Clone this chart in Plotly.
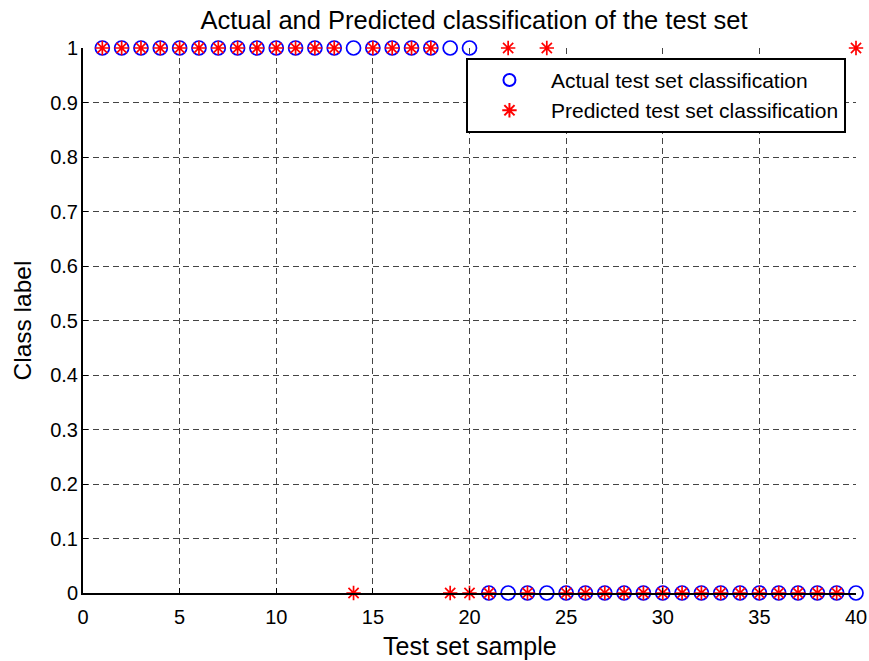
import plotly.graph_objects as go

samples = list(range(1, 41))
actual = [1]*20 + [0]*20
predicted = [1]*13 + [0] + [1]*4 + [0, 0, 0, 1, 0, 1] + [0]*15 + [1]
x_ticks = [0, 5, 10, 15, 20, 25, 30, 35, 40]
y_ticks = [0, 0.1, 0.2, 0.3, 0.4, 0.5, 0.6, 0.7, 0.8, 0.9, 1]
y_tick_labels = ["0", "0.1", "0.2", "0.3", "0.4", "0.5", "0.6", "0.7", "0.8", "0.9", "1"]

fig = go.Figure()
fig.add_trace(go.Scatter(
    x=samples, y=actual, mode="markers", name="Actual test set classification",
    marker=dict(symbol="circle-open", size=14, color="blue", line=dict(width=1.7, color="blue")),
    cliponaxis=False))
fig.add_trace(go.Scatter(
    x=samples, y=predicted, mode="markers", name="Predicted test set classification",
    marker=dict(symbol="asterisk-open", size=12, color="red", line=dict(width=1.7, color="red")),
    cliponaxis=False))

font = "Liberation Sans, Arial, sans-serif"
W, H = 869, 661
fig.update_layout(
    width=W, height=H,
    margin=dict(l=83, r=13, t=47.5, b=68),
    paper_bgcolor="white", plot_bgcolor="white",
    font=dict(family=font, size=20, color="black"),
    title=dict(text="Actual and Predicted classification of the test set",
               x=474 / W, xanchor="center", y=1 - 20 / H, yanchor="middle",
               font=dict(size=25.5, color="black", family=font)),
    showlegend=True,
    legend=dict(x=0.987, xanchor="right", y=0.982, yanchor="top",
                bgcolor="white", bordercolor="black", borderwidth=2,
                font=dict(size=21, family=font), itemsizing="constant",
                itemwidth=73, tracegroupgap=2),
    xaxis=dict(range=[0, 40], tickvals=x_ticks, ticks="inside", ticklen=5,
               tickcolor="black", showline=True, linecolor="black", linewidth=2,
               mirror=False, showgrid=True, gridcolor="#444", griddash="6px,4px",
               gridwidth=1, zeroline=False, automargin=False,
               ticklabelstandoff=5, tickfont=dict(size=20)),
    yaxis=dict(range=[0, 1], tickvals=y_ticks, ticktext=y_tick_labels, ticks="inside",
               ticklen=5, tickcolor="black", showline=True, linecolor="black",
               linewidth=2, mirror=False, showgrid=True, gridcolor="#444",
               griddash="6px,4px", gridwidth=1, zeroline=False, automargin=False,
               ticklabelstandoff=-1, tickfont=dict(size=20)),
    annotations=[
        dict(text="Test set sample", xref="paper", yref="paper", x=0.5, y=0,
             xanchor="center", yanchor="middle", yshift=-53, showarrow=False,
             font=dict(size=25, family=font, color="black")),
        dict(text="Class label", xref="paper", yref="paper", x=0, y=0.5,
             xanchor="center", yanchor="middle", xshift=-61, textangle=-90,
             showarrow=False, font=dict(size=24.5, family=font, color="black")),
    ],
)
fig.write_html(
    "out.html",
    config={"displayModeBar": False},
    post_script="document.body.style.margin='0';document.body.style.overflow='hidden';",
)
